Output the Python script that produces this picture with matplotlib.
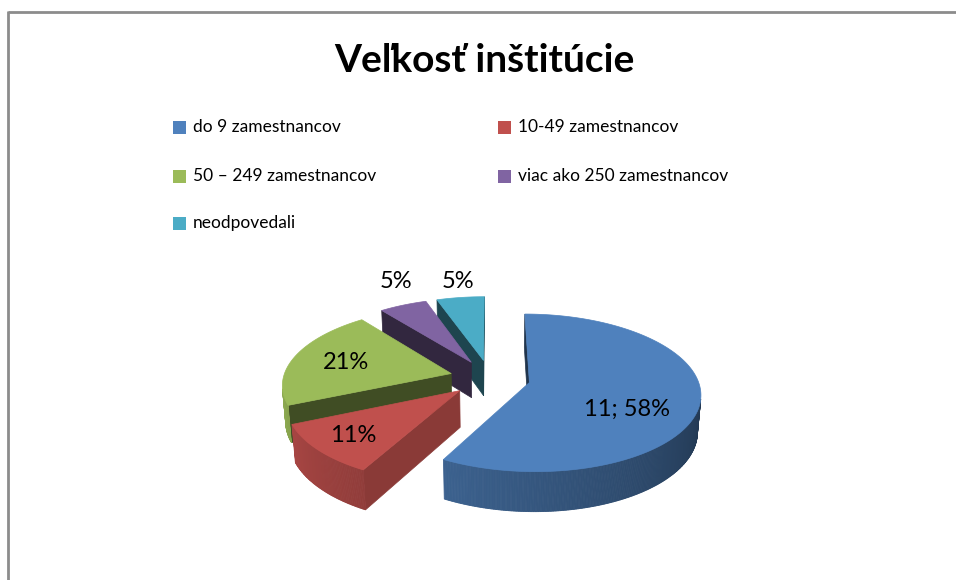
import numpy as np
import matplotlib
matplotlib.use("Agg")
import matplotlib.pyplot as plt
from matplotlib.patches import Polygon, Rectangle
import matplotlib.colors as mcolors

title = "Veľkosť inštitúcie"
categories = ["do 9 zamestnancov", "10-49 zamestnancov", "50 – 249 zamestnancov",
              "viac ako 250 zamestnancov", "neodpovedali"]
counts = [11, 2, 4, 1, 1]

colors = ["#4f81bd", "#c0504d", "#9bbb59", "#8064a2", "#4bacc6"]
cut_shade = [0.40, 0.72, 0.41, 0.39, 0.40]
# label nudges in pixels (dx, dy)
label_shift = [(-24, 13), (-7, 3), (8, 2), (11, -9), (4, 0)]

plt.rcParams['font.family'] = ['Lato', 'DejaVu Sans']

W, H = 956, 580
fig = plt.figure(figsize=(W / 100, H / 100), dpi=100)
ax = fig.add_axes([0, 0, 1, 1])
ax.set_xlim(0, W)
ax.set_ylim(H, 0)
ax.axis("off")

# chart frame (only top and left edges are inside the picture)
ax.plot([8, W], [12, 12], color="#8c8c8c", lw=2, solid_capstyle="butt")
ax.plot([8, 8], [11, H], color="#8c8c8c", lw=2, solid_capstyle="butt")

# simple 3d view of the pie
phi = np.radians(27)
dist = 6.86
scale = 168
cx, cy = 490, 378
thick = 0.245
explode = 0.24
cam_z = -dist * np.cos(phi)


def proj(u, z, y=0.0):
    yc = y * np.cos(phi) + z * np.sin(phi)
    zc = -y * np.sin(phi) + z * np.cos(phi) + dist
    f = scale * dist / zc
    return cx + u * f, cy - yc * f


def depth(u, z, y=0.0):
    return -y * np.sin(phi) + z * np.cos(phi) + dist


def facing(nu, nz, pu, pz):
    return nu * (0 - pu) + nz * (cam_z - pz) > 0


def shade(c, k):
    r, g, b = mcolors.to_rgb(c)
    return (r * k, g * k, b * k)


total = sum(counts)
fracs = [c / total for c in counts]
pcts = [round(100 * f) for f in fracs]
labels = [f"{counts[0]}; {pcts[0]}%"] + [f"{p}%" for p in pcts[1:]]
ends = np.cumsum(fracs) * 360
starts = ends - np.array(fracs) * 360

slices = []
for i in range(len(counts)):
    a1, a2 = starts[i], ends[i]
    mid = np.radians((a1 + a2) / 2)
    ou, oz = explode * np.sin(mid), explode * np.cos(mid)
    th = np.radians(np.linspace(a1, a2, max(int(a2 - a1), 2) * 2))
    ru = ou + np.sin(th)
    rz = oz + np.cos(th)
    slices.append((i, a1, a2, ou, oz, th, ru, rz))

# far slices first
order = sorted(slices, key=lambda s: -np.mean(depth(s[6], s[7])))

for i, a1, a2, ou, oz, th, ru, rz in order:
    col = colors[i]
    # radial cut walls
    for ang, sgn, k in [(a1, -1, 0), (a2, 1, -1)]:
        na = np.radians(ang + sgn * 90)
        nu, nz = np.sin(na), np.cos(na)
        if facing(nu, nz, (ou + ru[k]) / 2, (oz + rz[k]) / 2):
            pts = [proj(ou, oz), proj(ru[k], rz[k]),
                   proj(ru[k], rz[k], -thick), proj(ou, oz, -thick)]
            ax.add_patch(Polygon(pts, closed=True, fc=shade(col, cut_shade[i]),
                                 ec=shade(col, cut_shade[i]), lw=0.5))
    # outer wall, shaded by direction
    for j in range(len(th) - 1):
        tm = (th[j] + th[j + 1]) / 2
        if not facing(np.sin(tm), np.cos(tm), (ru[j] + ru[j + 1]) / 2, (rz[j] + rz[j + 1]) / 2):
            continue
        k = np.clip(0.40 + 0.003 * (np.degrees(tm) - 90), 0.38, 1.0)
        pts = [proj(ru[j], rz[j]), proj(ru[j + 1], rz[j + 1]),
               proj(ru[j + 1], rz[j + 1], -thick), proj(ru[j], rz[j], -thick)]
        ax.add_patch(Polygon(pts, closed=True, fc=shade(col, k), ec=shade(col, k), lw=0.6))
    # top face
    pts = [proj(ou, oz)] + [proj(u, z) for u, z in zip(ru, rz)]
    ax.add_patch(Polygon(pts, closed=True, fc=col, ec=col, lw=0.5))

# data labels
for i, a1, a2, ou, oz, th, ru, rz in slices:
    mid = np.radians((a1 + a2) / 2)
    r = 0.72 if fracs[i] > 0.1 else 1.3
    x, y = proj(ou + r * np.sin(mid), oz + r * np.cos(mid))
    dx, dy = label_shift[i]
    ax.text(x + dx, y + dy, labels[i], ha="center", va="center", fontsize=17, color="black")

# title
ax.text(484, 61, title, ha="center", va="center", fontsize=28, fontweight="bold")

# legend, row by row in two columns
leg_x = [173, 498]
leg_y = [127, 176, 223]
for i, name in enumerate(categories):
    x = leg_x[i % 2]
    y = leg_y[i // 2]
    ax.add_patch(Rectangle((x, y - 6.5), 13, 13, fc=colors[i], ec="none"))
    ax.text(x + 20, y, name, ha="left", va="center", fontsize=12.5)

fig.savefig("out.png", dpi=100)
